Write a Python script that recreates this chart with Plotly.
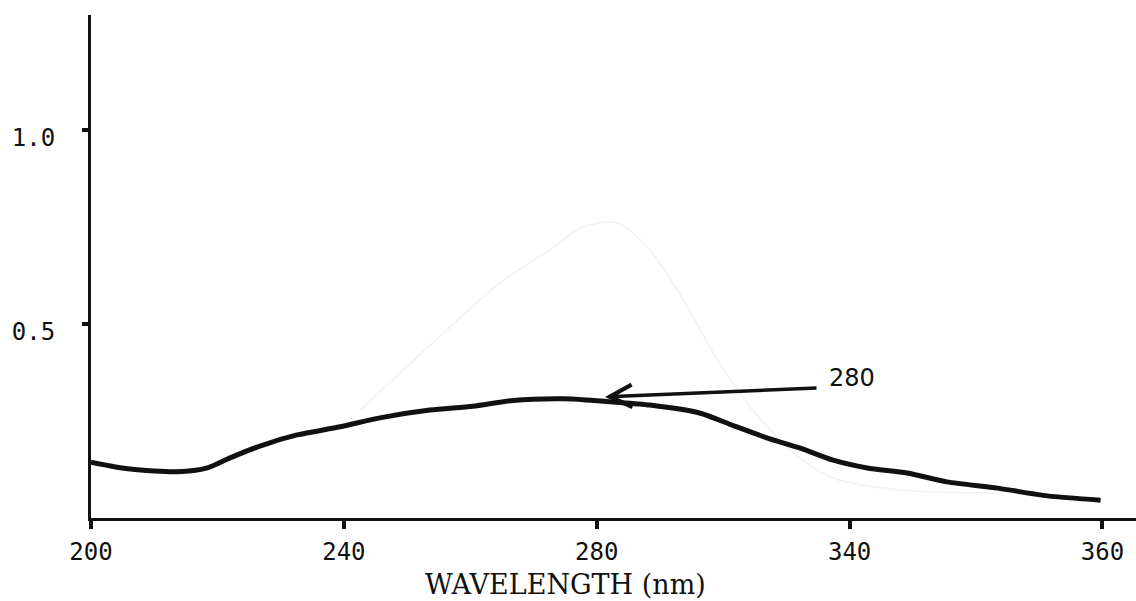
import plotly.graph_objects as go

# ---- data ----
wavelength = [200.0, 206.2, 213.6, 218.4, 222.0, 227.2, 232.6, 239.4, 245.7, 253.6,
              260.4, 266.8, 274.7, 278.5, 282.6, 288.4, 296.4, 301.6, 307.0, 312.2,
              317.4, 322.8, 329.1, 335.4, 343.4, 351.3, 359.7]
absorbance = [0.144, 0.126, 0.119, 0.129, 0.155, 0.188, 0.214, 0.235, 0.258, 0.278,
              0.288, 0.303, 0.307, 0.304, 0.299, 0.291, 0.270, 0.238, 0.206, 0.180,
              0.149, 0.129, 0.116, 0.093, 0.077, 0.057, 0.046]

# faint bleed-through trace visible in the scan
ghost_wl = [242.6, 248.9, 256.8, 264.7, 272.6, 277.8, 283.2, 288.4, 293.7, 299.1,
            304.3, 311.1, 317.4, 328.0, 343.8]
ghost_abs = [0.278, 0.374, 0.492, 0.606, 0.691, 0.750, 0.760, 0.691, 0.562, 0.407,
             0.286, 0.168, 0.103, 0.072, 0.064]

x_tickvals = [200, 240, 280, 320, 360]
x_ticktext = ["200", "240", "280", "340", "360"]
y_tickvals = [0.5, 1.0]
y_ticktext = ["0.5", "1.0"]

peak_label = "280"
peak_x, peak_y = 281.3, 0.312
x_title = "WAVELENGTH (nm)"

INK = "#111111"
TICKFONT = dict(family="DejaVu Sans Mono", size=24, color=INK)

fig = go.Figure()
fig.add_trace(go.Scatter(x=ghost_wl, y=ghost_abs, mode="lines",
                         line=dict(color="#f4f4f4", width=2, shape="spline", smoothing=0.8),
                         hoverinfo="skip", showlegend=False))
fig.add_trace(go.Scatter(x=wavelength, y=absorbance, mode="lines",
                         line=dict(color=INK, width=5, shape="spline", smoothing=0.7),
                         showlegend=False))

# arrow pointing to the peak
fig.add_annotation(x=peak_x, y=peak_y, ax=315.0, ay=0.335, xref="x", yref="y",
                   axref="x", ayref="y", text="", showarrow=True,
                   arrowhead=5, arrowsize=1.25, arrowwidth=3.5, arrowcolor=INK)
fig.add_annotation(x=320.3, y=0.361, xref="x", yref="y", text=peak_label,
                   showarrow=False, font=dict(family="DejaVu Sans", size=24, color=INK))
# axis title
fig.add_annotation(x=275, y=-0.133, xref="x", yref="paper", yanchor="middle",
                   xanchor="center", text=x_title, showarrow=False,
                   font=dict(family="DejaVu Serif", size=27, color=INK))

fig.update_layout(
    width=1136, height=601,
    margin=dict(l=91, r=0, t=15, b=83),
    paper_bgcolor="white", plot_bgcolor="white",
    showlegend=False,
)
fig.update_xaxes(range=[200, 365.3], tickvals=x_tickvals, ticktext=x_ticktext,
                 showgrid=False, zeroline=False, showline=True, linecolor=INK,
                 linewidth=3, ticks="outside", ticklen=8, tickwidth=4, tickcolor=INK,
                 tickfont=TICKFONT, ticklabelstandoff=2)
fig.update_yaxes(range=[0, 1.296], tickvals=y_tickvals, ticktext=y_ticktext,
                 showgrid=False, zeroline=False, showline=True, linecolor=INK,
                 linewidth=3, ticks="outside", ticklen=6, tickwidth=4, tickcolor=INK,
                 tickfont=TICKFONT, ticklabelstandoff=22, ticklabelshift=8)

fig.write_html("out.html")
